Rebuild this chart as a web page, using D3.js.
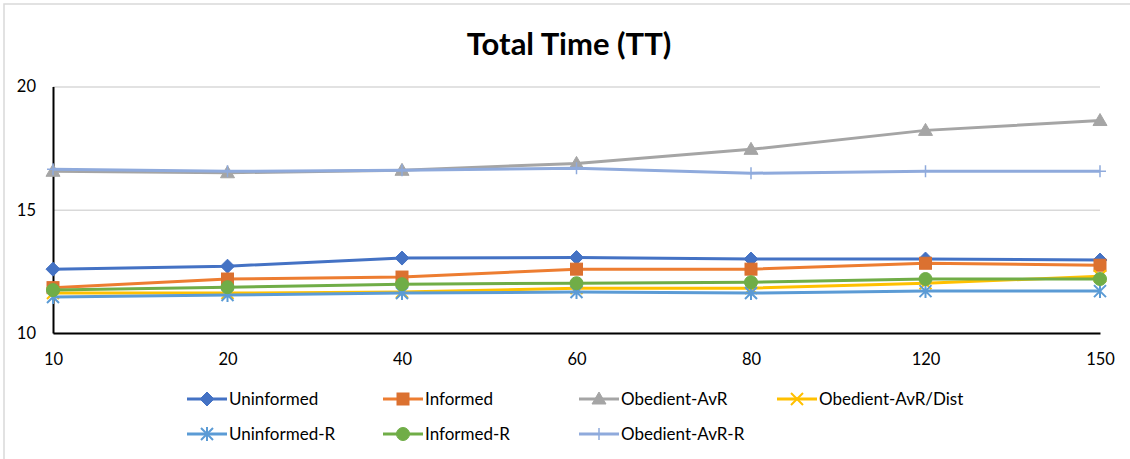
<!DOCTYPE html>
<html>
<head>
<meta charset="utf-8">
<script src="https://cdn.jsdelivr.net/npm/d3@7"></script>
<style>
  body { margin: 0; background: #fff; }
  svg { display: block; font-family: Lato, "Open Sans", sans-serif; }
</style>
</head>
<body>
<svg width="1130" height="459"></svg>
<script>
// values
const categories = ['10', '20', '40', '60', '80', '120', '150'];
const uninformed      = [12.59, 12.71, 13.04, 13.06, 13.00, 13.00, 12.96];
const informed        = [11.84, 12.19, 12.27, 12.59, 12.59, 12.83, 12.75];
const obedientAvR     = [16.56, 16.50, 16.60, 16.88, 17.45, 18.22, 18.62];
const obedientAvRDist = [11.62, 11.62, 11.66, 11.82, 11.82, 12.02, 12.30];
const uninformedR     = [11.46, 11.54, 11.62, 11.66, 11.62, 11.70, 11.70];
const informedR       = [11.74, 11.86, 11.98, 12.02, 12.06, 12.19, 12.19];
const obedientAvRR    = [16.64, 16.56, 16.60, 16.68, 16.48, 16.56, 16.56];
const yTicks = [10, 15, 20];

const series = [
  { name: 'Uninformed',        values: uninformed,      color: '#4472C4', marker: 'diamond' },
  { name: 'Informed',          values: informed,        color: '#ED7D31', marker: 'square' },
  { name: 'Obedient-AvR',      values: obedientAvR,     color: '#A5A5A5', marker: 'triangle' },
  { name: 'Obedient-AvR/Dist', values: obedientAvRDist, color: '#FFC000', marker: 'x' },
  { name: 'Uninformed-R',      values: uninformedR,     color: '#5B9BD5', marker: 'star' },
  { name: 'Informed-R',        values: informedR,       color: '#70AD47', marker: 'circle' },
  { name: 'Obedient-AvR-R',    values: obedientAvRR,    color: '#8FAADC', marker: 'plus' }
];

const svg = d3.select('svg');

// chart frame
svg.append('rect')
  .attr('x', 4).attr('y', 4)
  .attr('width', 1140).attr('height', 470)
  .attr('fill', 'none')
  .attr('stroke', '#d9d9d9')
  .attr('stroke-width', 1.5);

svg.append('text')
  .attr('x', 569).attr('y', 55)
  .attr('text-anchor', 'middle')
  .attr('font-size', '31px')
  .attr('font-weight', 'bold')
  .text('Total Time (TT)');

const plotLeft = 53, plotRight = 1100, plotTop = 86.5, plotBottom = 333;

const x = d3.scalePoint().domain(categories).range([plotLeft, plotRight]);
const y = d3.scaleLinear().domain([10, 20]).range([plotBottom, plotTop]);

// gridlines
svg.append('g')
  .attr('transform', 'translate(' + plotLeft + ',0)')
  .call(d3.axisLeft(y).tickValues(yTicks).tickSize(-(plotRight - plotLeft)).tickFormat(''))
  .call(g => g.select('.domain').remove())
  .selectAll('line').attr('stroke', '#d9d9d9').attr('stroke-width', 1.5);

// y axis
const yAxis = svg.append('g')
  .attr('transform', 'translate(' + plotLeft + ',0)')
  .call(d3.axisLeft(y).tickValues(yTicks).tickSize(0).tickPadding(17));
yAxis.select('.domain').attr('stroke', '#000').attr('stroke-width', 2);
yAxis.selectAll('text').attr('font-size', '16.5px').attr('font-family', 'Lato').attr('fill', '#000');

// x axis
const xAxis = svg.append('g')
  .attr('transform', 'translate(0,' + plotBottom + ')')
  .call(d3.axisBottom(x).tickSize(0).tickPadding(20));
xAxis.select('.domain').attr('stroke', '#000').attr('stroke-width', 2);
xAxis.selectAll('text').attr('font-size', '16.5px').attr('font-family', 'Lato').attr('fill', '#000');

function drawMarker(g, type, color, cx, cy) {
  if (type === 'diamond') {
    g.append('path').attr('d', `M${cx},${cy - 7}L${cx + 7},${cy}L${cx},${cy + 7}L${cx - 7},${cy}Z`)
      .attr('fill', color).attr('stroke', color);
  } else if (type === 'square') {
    g.append('rect').attr('x', cx - 6).attr('y', cy - 6).attr('width', 12).attr('height', 12)
      .attr('fill', '#DB7130').attr('stroke', '#DB7130');
  } else if (type === 'triangle') {
    g.append('path').attr('d', `M${cx},${cy - 7}L${cx + 7},${cy + 5}L${cx - 7},${cy + 5}Z`)
      .attr('fill', color).attr('stroke', color);
  } else if (type === 'circle') {
    g.append('circle').attr('cx', cx).attr('cy', cy).attr('r', 6.5)
      .attr('fill', color).attr('stroke', color);
  } else if (type === 'x') {
    g.append('path').attr('d', `M${cx - 6},${cy - 6}L${cx + 6},${cy + 6}M${cx - 6},${cy + 6}L${cx + 6},${cy - 6}`)
      .attr('stroke', color).attr('stroke-width', 2);
  } else if (type === 'star') {
    g.append('path').attr('d', `M${cx - 6},${cy - 6}L${cx + 6},${cy + 6}M${cx - 6},${cy + 6}L${cx + 6},${cy - 6}M${cx},${cy - 7}L${cx},${cy + 7}`)
      .attr('stroke', color).attr('stroke-width', 2);
  } else if (type === 'plus') {
    g.append('path').attr('d', `M${cx - 6},${cy}L${cx + 6},${cy}M${cx},${cy - 6}L${cx},${cy + 6}`)
      .attr('stroke', color).attr('stroke-width', 1.5);
  }
}

const line = d3.line().x((d, i) => x(categories[i])).y(d => y(d));

series.forEach(s => {
  const g = svg.append('g');
  g.append('path')
    .datum(s.values)
    .attr('d', line)
    .attr('fill', 'none')
    .attr('stroke', s.color)
    .attr('stroke-width', 3)
    .attr('stroke-linejoin', 'round');
  s.values.forEach((v, i) => drawMarker(g, s.marker, s.color, x(categories[i]), y(v)));
});

// legend
const legendCols = [187, 383, 579, 777];
const legendRows = [399, 434];
series.forEach((s, i) => {
  const lx = legendCols[i % 4], ly = legendRows[Math.floor(i / 4)];
  const g = svg.append('g');
  g.append('line')
    .attr('x1', lx).attr('x2', lx + 40)
    .attr('y1', ly).attr('y2', ly)
    .attr('stroke', s.color).attr('stroke-width', 3);
  drawMarker(g, s.marker, s.color, lx + 20, ly);
  g.append('text')
    .attr('x', lx + 42).attr('y', ly)
    .attr('dy', '0.35em')
    .attr('font-size', '17px')
    .text(s.name);
});
</script>
</body>
</html>
